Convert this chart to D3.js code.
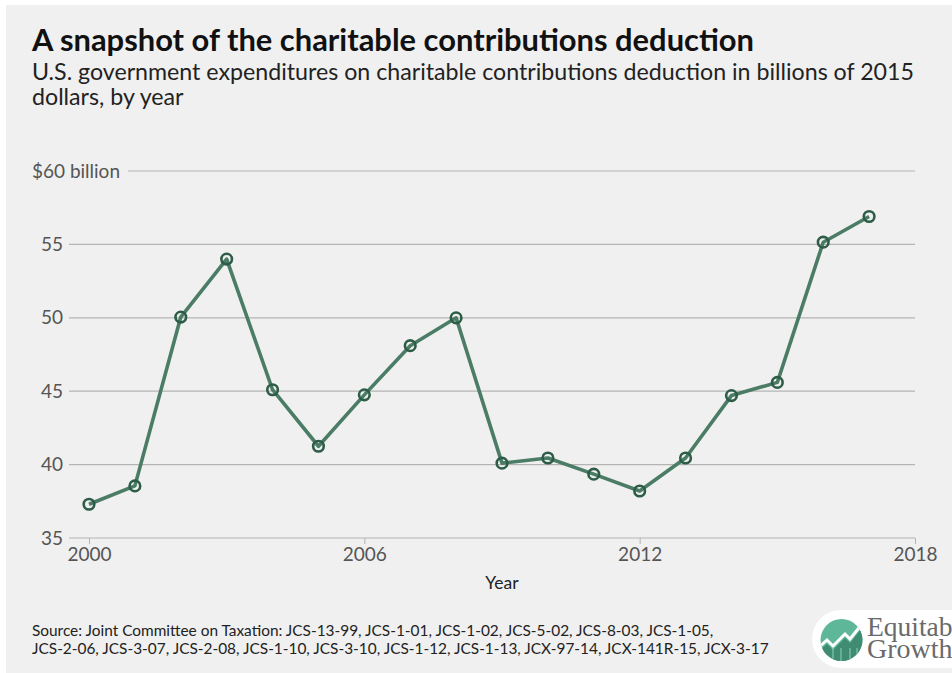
<!DOCTYPE html>
<html><head><meta charset="utf-8">
<script src="https://cdn.jsdelivr.net/npm/d3@7/dist/d3.min.js"></script>
<style>body{margin:0;background:#fff;}svg{display:block;font-family:Lato,"Open Sans",sans-serif;}</style>
</head><body>
<svg id="c" width="952" height="673"></svg>
<script>
const years = [2000,2001,2002,2003,2004,2005,2006,2007,2008,2009,2010,2011,2012,2013,2014,2015,2016,2017];
const values = [37.3,38.55,50.05,54.0,45.1,41.25,44.75,48.1,50.0,40.1,40.45,39.35,38.2,40.45,44.7,45.6,55.15,56.9];
const yTicks = [35,40,45,50,55,60];
const xTicks = [2000,2006,2012,2018];
const title = "A snapshot of the charitable contributions deduction";
const subtitle = ["U.S. government expenditures on charitable contributions deduction in billions of 2015","dollars, by year"];
const source = ["Source: Joint Committee on Taxation: JCS-13-99, JCS-1-01, JCS-1-02, JCS-5-02, JCS-8-03, JCS-1-05,","JCS-2-06, JCS-3-07, JCS-2-08, JCS-1-10, JCS-3-10, JCS-1-12, JCS-1-13, JCX-97-14, JCX-141R-15, JCX-3-17"];

const svg = d3.select("#c");
svg.append("rect").attr("x",6).attr("y",5).attr("width",946).attr("height",668).attr("fill","#f0f0f0");

svg.append("text").attr("x",32).attr("y",51).attr("font-size",30.9).attr("font-weight",700).attr("fill","#111").text(title);
subtitle.forEach((s,i)=>svg.append("text").attr("x",32).attr("y",80+i*25).attr("font-size",23.2).attr("fill","#222").text(s));

const x = d3.scaleLinear().domain([2000,2018]).range([89,915]);
const y = d3.scaleLinear().domain([35,60]).range([538,171]);

// gridlines
const g = svg.append("g");
yTicks.forEach(t=>{
  g.append("line").attr("x1", t===60?128:69).attr("x2",915).attr("y1",y(t)).attr("y2",y(t))
   .attr("stroke","#b4b4b4").attr("stroke-width",1.2);
  g.append("text").attr("x", t===60?120:63).attr("y",y(t)).attr("dy","0.35em").attr("text-anchor","end")
   .attr("font-size",19).attr("fill","#555").text(t===60?"$60 billion":t);
});

// x axis
const xa = svg.append("g").attr("transform",`translate(0,${y(35)})`)
  .call(d3.axisBottom(x).tickValues(xTicks).tickFormat(d3.format("d")).tickSize(6).tickPadding(4));
xa.select(".domain").remove();
xa.selectAll("line").attr("stroke","#b4b4b4");
xa.selectAll("text").attr("font-size",19).attr("fill","#555").attr("font-family","Lato,sans-serif");

svg.append("text").attr("x",502).attr("y",589).attr("text-anchor","middle").attr("font-size",17.5).attr("fill","#222").text("Year");

// line
const line = d3.line().x((d,i)=>x(years[i])).y(d=>y(d));
svg.append("path").datum(values).attr("d",line).attr("fill","none").attr("stroke","#4b7c66").attr("stroke-width",3.6).attr("stroke-linejoin","round");
svg.selectAll("circle.pt").data(values).join("circle").attr("class","pt")
  .attr("cx",(d,i)=>x(years[i])).attr("cy",d=>y(d)).attr("r",5.3)
  .attr("fill","none").attr("stroke","#2d5c47").attr("stroke-width",2.6);

// source
source.forEach((s,i)=>svg.append("text").attr("x",32).attr("y",636+i*18).attr("font-size",15.4).attr("fill","#222").text(s));

// logo
const lg = svg.append("g");
lg.append("rect").attr("x",812).attr("y",610).attr("width",180).attr("height",58).attr("rx",29).attr("fill","#fff");
lg.append("circle").attr("cx",841.5).attr("cy",640).attr("r",21).attr("fill","#5fb79a");
const clip = lg.append("clipPath").attr("id","lc");
clip.append("circle").attr("cx",841.5).attr("cy",640).attr("r",21);
lg.append("path").attr("clip-path","url(#lc)").attr("d","M818,652 L827,644 L833,650 L845,638 L850,643 L862,628 L865,628 L865,665 L818,665 Z").attr("fill","#3f8c72");
lg.append("path").attr("clip-path","url(#lc)").attr("d","M818,648 L827,640 L833,646 L845,634 L850,639 L862,624").attr("fill","none").attr("stroke","#fff").attr("stroke-width",3);
[833,841,850,857].forEach(xx=>lg.append("line").attr("clip-path","url(#lc)").attr("x1",xx).attr("x2",xx).attr("y1",648).attr("y2",665).attr("stroke","#8fd0b9").attr("stroke-width",1));
lg.append("text").attr("x",867).attr("y",636).attr("font-family","'Liberation Serif','DejaVu Serif',serif").attr("font-size",27.5).attr("fill","#6a6a6a").text("Equitable");
lg.append("text").attr("x",867).attr("y",658).attr("font-family","'Liberation Serif','DejaVu Serif',serif").attr("font-size",28).attr("fill","#6a6a6a").text("Growth");
</script>
</body></html>
